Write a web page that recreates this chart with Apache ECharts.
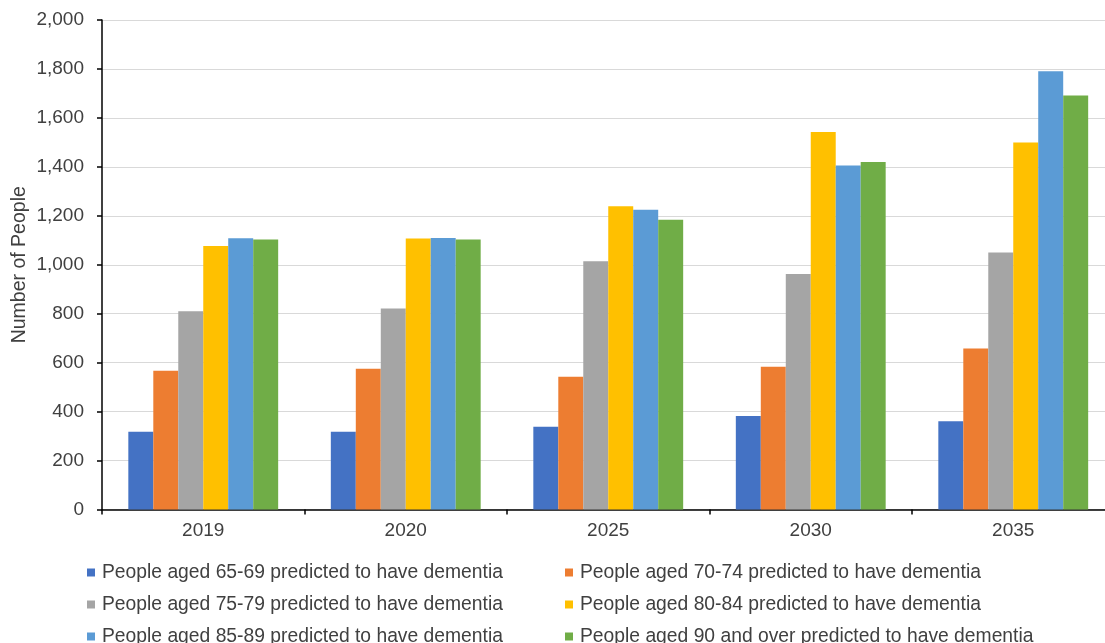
<!DOCTYPE html>
<html>
<head>
<meta charset="utf-8">
<script src="https://cdn.jsdelivr.net/npm/echarts@6/dist/echarts.min.js"></script>
<style>
  html, body { margin: 0; padding: 0; background: #ffffff; }
  #chart { width: 1105px; height: 643px; }
</style>
</head>
<body>
<div id="chart"></div>
<script>
// Projected number of people with dementia by age band
const years = ['2019', '2020', '2025', '2030', '2035'];

const aged65to69 = [318, 318, 338, 382, 361];
const aged70to74 = [567, 575, 542, 583, 658];
const aged75to79 = [810, 821, 1014, 962, 1050];
const aged80to84 = [1077, 1107, 1239, 1542, 1499];
const aged85to89 = [1108, 1109, 1225, 1406, 1791];
const aged90plus = [1103, 1103, 1184, 1420, 1692];

const seriesNames = [
  'People aged 65-69 predicted to have dementia',
  'People aged 70-74 predicted to have dementia',
  'People aged 75-79 predicted to have dementia',
  'People aged 80-84 predicted to have dementia',
  'People aged 85-89 predicted to have dementia',
  'People aged 90 and over predicted to have dementia'
];
const seriesValues = [aged65to69, aged70to74, aged75to79, aged80to84, aged85to89, aged90plus];
const seriesColors = ['#4472C4', '#ED7D31', '#A5A5A5', '#FFC000', '#5B9BD5', '#70AD47'];

const textColor = '#404040';
const fontFamily = 'Liberation Sans, Arial, sans-serif';

const chart = echarts.init(document.getElementById('chart'), null, { renderer: 'canvas' });

// Two stacked legend columns, each listing three series
const legendCommon = {
  orient: 'vertical',
  icon: 'rect',
  itemWidth: 8,
  itemHeight: 8,
  itemGap: 13,
  height: 110,
  padding: 5,
  textStyle: { color: textColor, fontSize: 19.3, fontFamily: fontFamily, lineHeight: 19, padding: [0, 0, 0, 2] },
  selectedMode: false
};

chart.setOption({
  backgroundColor: '#ffffff',
  animation: false,
  grid: { left: 102, top: 20, bottom: 133.5, right: -9.5, containLabel: false, outerBoundsMode: 'none' },
  legend: [
    Object.assign({}, legendCommon, { left: 82, top: 558, data: [seriesNames[0], seriesNames[2], seriesNames[4]] }),
    Object.assign({}, legendCommon, { left: 560, top: 558, data: [seriesNames[1], seriesNames[3], seriesNames[5]] })
  ],
  xAxis: {
    type: 'category',
    data: years,
    axisLine: { lineStyle: { color: '#000000', width: 1.5 } },
    axisTick: { show: true, alignWithLabel: false, length: 5, lineStyle: { color: '#000000', width: 1.5 } },
    axisLabel: { color: textColor, fontSize: 19, fontFamily: fontFamily, margin: 12 },
    splitLine: { show: false }
  },
  yAxis: {
    type: 'value',
    min: 0,
    max: 2000,
    interval: 200,
    name: 'Number of People',
    nameLocation: 'middle',
    nameGap: 72,
    nameMoveOverlap: false,
    nameTextStyle: { color: textColor, fontSize: 19.5, fontFamily: fontFamily },
    axisLine: { show: true, lineStyle: { color: '#000000', width: 1.5 } },
    axisTick: { show: true, length: 5, lineStyle: { color: '#000000', width: 1.5 } },
    axisLabel: {
      color: textColor, fontSize: 19, fontFamily: fontFamily, margin: 18,
      formatter: v => v.toLocaleString('en-US')
    },
    splitLine: { show: true, lineStyle: { color: '#d9d9d9', width: 1.2 } }
  },
  series: seriesNames.map((name, i) => ({
    name: name,
    type: 'bar',
    data: seriesValues[i],
    barGap: '0%',
    barCategoryGap: '26%',
    itemStyle: { color: seriesColors[i] }
  }))
});
</script>
</body>
</html>
